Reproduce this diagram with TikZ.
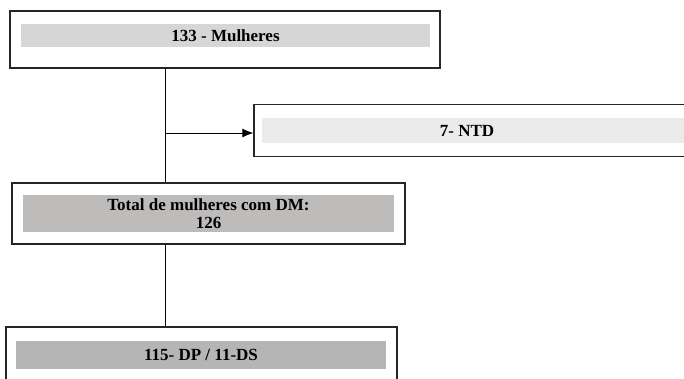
\documentclass[tikz,border=0pt]{standalone}
\usepackage{fontspec}
\setmainfont{Liberation Serif}
\usetikzlibrary{arrows.meta}
\definecolor{bandA}{HTML}{D6D6D6}
\definecolor{bandB}{HTML}{EBEBEB}
\definecolor{bandC}{HTML}{BEBBBB}
\definecolor{bandD}{HTML}{B5B5B5}
\begin{document}
\begin{tikzpicture} [
            x=1pt, y=-1pt,
            every node/.style = {font=\bfseries\fontsize{17}{17.5}\selectfont, inner sep=0pt},
            outer/.style = {draw=black!85, line width=1.3pt, rectangle},
            band/.style = {rectangle, align=center},
        ]

            \useasboundingbox (0,0) rectangle (684,378);

            \node[outer, minimum width=430, minimum height=57] (M) at (225, 39.5) {};
            \node[band, fill=bandA, minimum width=409, minimum height=23] (Mb) at (225.5, 35.5) {133 - Mulheres};

            \node[outer, minimum width=450, minimum height=52] (N) at (479, 130.5) {};
            \node[band, fill=bandB, minimum width=440, minimum height=25] (Nb) at (482, 130.5) {};
            \node (Nt) at (467, 130.5) {7- NTD};

            \node[outer, minimum width=393, minimum height=61] (T) at (208.5, 213.5) {};
            \node[band, fill=bandC, minimum width=371, minimum height=37] (Tb) at (208.5, 213.5) {Total de mulheres com DM:\\126};

            \node[outer, minimum width=391, minimum height=80] (D) at (201.5, 367) {};
            \node[band, fill=bandD, minimum width=370, minimum height=28] (Db) at (201, 355) {115- DP / 11-DS};

            \coordinate (J) at (165, 133);

            \draw[line width=0.9pt] (M.south -| J) -- (T.north -| J);
            \draw[line width=0.9pt,-{Latex[length=11pt,width=9pt]}] (J) -- (J -| N.west);
            \draw[line width=0.9pt] (T.south -| J) -- (D.north -| J);
        \end{tikzpicture}
\end{document}
